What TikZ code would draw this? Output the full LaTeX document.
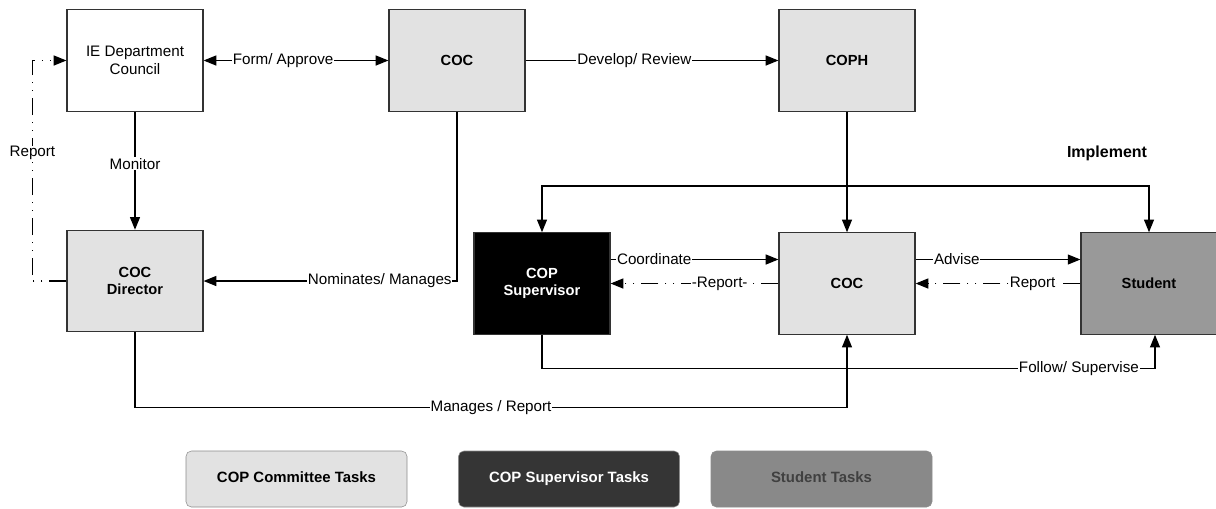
\documentclass[tikz,border=0pt]{standalone}
\usepackage{fontspec}
\setmainfont{Liberation Sans}
\usetikzlibrary{arrows.meta}

\definecolor{taskgray}{HTML}{E2E2E2}
\definecolor{supdark}{HTML}{353535}
\definecolor{studgray}{HTML}{999999}
\definecolor{studlegend}{HTML}{898989}

\tikzset{
  box/.style={draw=black!80, line width=0.9pt, minimum width=102pt, minimum height=76pt,
    align=center, inner sep=0pt},
  boldbox/.style={box, font=\fontsize{11}{13}\selectfont\bfseries},
  legendbox/.style={draw=black!45, rounded corners=4pt, minimum width=165.75pt, minimum height=42pt,
    text height=8pt, text depth=2.5pt, font=\fontsize{11.2}{13}\selectfont\bfseries},
  conn/.style={line width=0.9pt, -{Triangle[length=9.5pt,width=7.5pt]}},
  twoway/.style={line width=0.9pt, {Triangle[length=9.5pt,width=7.5pt]}-{Triangle[length=9.5pt,width=7.5pt]}},
  ddot/.style={dash pattern=on 13pt off 5pt on 1pt off 5pt on 1pt off 5pt},
  lbl/.style={fill=white, inner sep=0.6pt}
}

\begin{document}
\begin{tikzpicture}[x=0.75pt, y=-0.75pt]
  \tikzstyle{every node}=[font=\fontsize{11.4}{13.5}\selectfont]
  \useasboundingbox (0,0) rectangle (1216,508);

  % top row
  \node[box] (council) at (135,60.5) {IE Department\\Council};
  \node[boldbox, fill=taskgray] (cocTop) at (457,60.5) {COC};
  \node[boldbox, fill=taskgray] (coph) at (847,60.5) {COPH};

  % middle row
  \node[boldbox, fill=taskgray] (director) at (135,281) {COC\\Director};
  \node[boldbox, fill=black, text=white] (supervisor) at (542,283.5) {COP\\Supervisor};
  \node[boldbox, fill=taskgray] (cocMid) at (847,283.5) {COC};
  \node[boldbox, fill=studgray] (student) at (1149,283.5) {Student};

  \node[font=\fontsize{12}{14}\selectfont\bfseries] (implement) at (1107,153) {Implement};
  \coordinate (split) at (847,186);

  % connectors
  \draw[twoway] (council.east) -- node[lbl, pos=0.43] {Form/ Approve} (cocTop.west);
  \draw[conn] (cocTop.east) -- node[lbl, pos=0.43] {Develop/ Review} (coph.west);
  \draw[conn] (council.south) -- node[lbl, pos=0.44] {Monitor} (director.north);
  \draw[conn, ddot] (director.west) -- ++(-34,0) |- node[lbl, pos=0.29] {Report} (council.west);
  \draw[conn] (cocTop.south) |- node[lbl, pos=0.5, anchor=east, xshift=-3pt] {Nominates/ Manages} (director.east);
  \draw[conn] (coph.south) -- (cocMid.north);
  \draw[twoway] (supervisor.north) |- (split) -| (student.north);

  \draw[conn] ([yshift=18pt]supervisor.east) -- node[lbl, pos=0.26] {Coordinate} ([yshift=18pt]cocMid.west);
  \draw[conn, ddot] (cocMid.west) -- node[lbl, pos=0.35] {-Report-} (supervisor.east);
  \draw[conn] ([yshift=18pt]cocMid.east) -- node[lbl, pos=0.25] {Advise} ([yshift=18pt]student.west);
  \draw[conn, ddot] (student.west) -- node[lbl, pos=0.29] {Report} (cocMid.east);

  \draw[conn] (supervisor.south) -- ++(0,34) -| node[lbl, pos=0.5, anchor=east, xshift=-11pt] {Follow/ Supervise} ([xshift=4.5pt]student.south);
  \draw[conn] (director.south) -- ++(0,75) -| node[lbl, pos=0.25] {Manages / Report} (cocMid.south);

  % legend
  \node[legendbox, fill=taskgray] (legCommittee) at (296.5,479) {COP Committee Tasks};
  \node[legendbox, fill=supdark, text=white] (legSupervisor) at (569,479) {COP Supervisor Tasks};
  \node[legendbox, fill=studlegend, text=black!75] (legStudent) at (821.5,479) {Student Tasks};
\end{tikzpicture}
\end{document}
